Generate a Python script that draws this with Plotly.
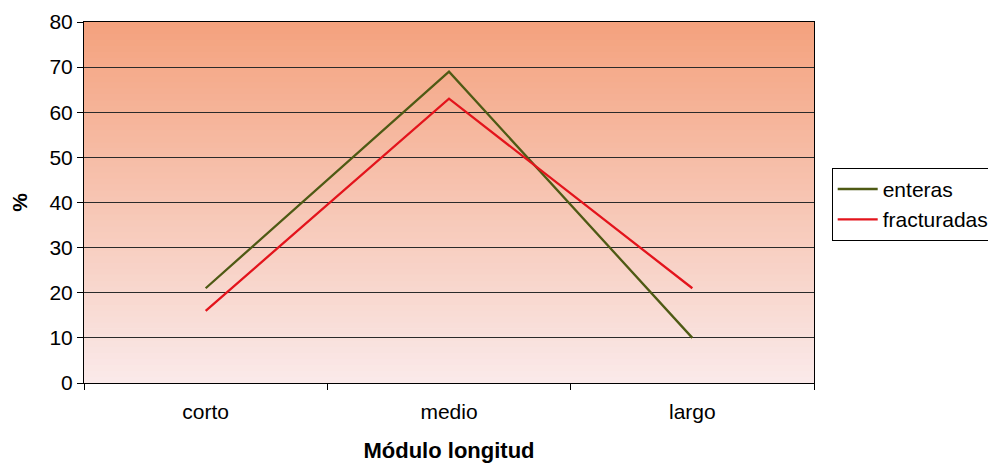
import plotly.graph_objects as go

categories = ["corto", "medio", "largo"]
enteras = [21, 69, 10]
fracturadas = [16, 63, 21]
y_ticks = [0, 10, 20, 30, 40, 50, 60, 70, 80]

FONT = "Liberation Sans, Arial, sans-serif"

fig = go.Figure()
fig.add_trace(go.Scatter(x=categories, y=enteras, mode="lines", name="enteras",
                         line=dict(color="#4E5A14", width=2.3)))
fig.add_trace(go.Scatter(x=categories, y=fracturadas, mode="lines", name="fracturadas",
                         line=dict(color="#E3141C", width=2.3)))

# gradient background (top orange -> bottom pale pink)
top = (244, 162, 126)
bot = (250, 233, 233)
n = 60
shapes = []
for i in range(n):
    t = i / (n - 1)
    c = tuple(round(bot[k] + (top[k] - bot[k]) * t) for k in range(3))
    shapes.append(dict(type="rect", xref="x domain", yref="y domain",
                       x0=0, x1=1, y0=i / n, y1=(i + 1) / n + 0.002,
                       fillcolor="rgb(%d,%d,%d)" % c, line=dict(width=0),
                       layer="below"))

fig.update_layout(
    width=996, height=466,
    margin=dict(l=76, r=190, t=14, b=91),
    paper_bgcolor="white", plot_bgcolor="white",
    font=dict(family=FONT, size=21, color="black"),
    shapes=shapes,
    showlegend=True,
    legend=dict(xref="container", yref="container", x=0.827, y=0.657,
                xanchor="left", yanchor="top",
                bordercolor="black", borderwidth=1, bgcolor="white",
                font=dict(size=21), tracegroupgap=0, itemwidth=40),
    xaxis=dict(type="category", range=[-0.5, 2.5], showgrid=False, automargin=False,
               showline=True, linecolor="black", linewidth=1, mirror=True,
               ticks="outside", tickson="boundaries", ticklen=6, tickcolor="black",
               tickfont=dict(size=21), ticklabelstandoff=10,
               title=dict(text="<b>Módulo longitud</b>", font=dict(size=22), standoff=20)),
    yaxis=dict(range=[0, 80], tickvals=y_ticks, showgrid=True, gridcolor="#2a2a2a",
               automargin=False,
               gridwidth=1, showline=True, linecolor="black", linewidth=1, mirror=True,
               ticks="outside", ticklen=6, tickcolor="black", zeroline=False,
               tickfont=dict(size=21),
               title=dict(text="<b>%</b>", font=dict(size=21), standoff=16)),
)

fig.write_html("out.html")
